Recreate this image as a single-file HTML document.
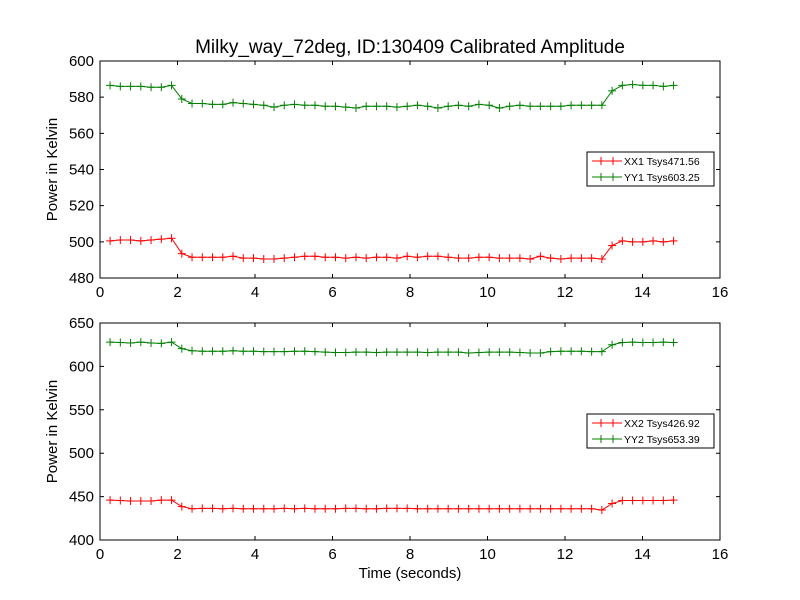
<!DOCTYPE html>
<html><head><meta charset="utf-8"><style>
body{margin:0;background:#fff}
svg{display:block;font-family:"Liberation Sans","DejaVu Sans",sans-serif}
</style></head><body>
<svg id="c" width="800" height="600" viewBox="0 0 800 600">
<rect width="800" height="600" fill="#fff"/>
<text x="410" y="53" font-size="19" text-anchor="middle">Milky_way_72deg, ID:130409 Calibrated Amplitude</text>
<text x="410" y="578" font-size="15" text-anchor="middle">Time (seconds)</text>
</svg>
<script>
const xTicks=[0,2,4,6,8,10,12,14,16];
const topYTicks=[480,500,520,540,560,580,600];
const botYTicks=[400,450,500,550,600,650];
const t0=0.26, dt=0.2644, nPts=56;
const xx1=[500.5,501,501,500.5,501,501.5,502,493.5,491.5,491.5,491.5,491.5,492,491,491,490.5,490.5,491,491.5,492,492,491.5,491.5,491,491.5,491,491.5,491.5,491,492,491.5,492,492,491.5,491,491,491.5,491.5,491,491,491,490.5,492,491,490.5,491,491,491,490.5,498,500.5,500,500,500.5,500,500.5];
const yy1=[586.5,586,586,586,585.5,585.5,586.5,579,576.5,576.5,576,576,577,576.5,576,575.5,574.5,575.5,576,575.5,575.5,575,575,574.5,574,575,575,575,574.5,575,575.5,575,574,575,575.5,575,576,575.5,574,575,575.5,575,575,575,575,575.5,575.5,575.5,575.5,583.5,586.5,587,586.5,586.5,586,586.5];
const xx2=[446,445.5,445,445,445,446,446,438.5,436,436.5,436.5,436,436.5,436,436,436,436,436.5,436,436.5,436,436,436,436.5,436.5,436,436,436.5,436.5,436.5,436,436,436,436,436,436,436,436,436,436,436,436,436,436,436,436,436,436,434.5,442,445.5,445.5,445.5,445.5,445.5,446];
const yy2=[628,627.5,627,628,627,626.5,628,620.5,618,617.5,617.5,617.5,618,617.5,617.5,617,617,617,617.5,617.5,617,616.5,616,616,616.5,616.5,616,616.5,616.5,616.5,616.5,616,616.5,616.5,616.5,615.5,616,616.5,616.5,616.5,616,615.5,615.5,617,617.5,617.5,617.5,617,617,625,627.5,628,627.5,627.5,628,627.5];
const svg=document.getElementById('c');
const NS='http://www.w3.org/2000/svg';
function mk(tag,attrs,parent){const e=document.createElementNS(NS,tag);for(const k in attrs)e.setAttribute(k,attrs[k]);(parent||svg).appendChild(e);return e;}
function panel(top,bot,ymin,ymax,yTicks,series,legend,legY,name){
  const L=100,R=720;
  const xs=v=>L+(v-0)/(16-0)*(R-L);
  const ys=v=>bot-(v-ymin)/(ymax-ymin)*(bot-top);
  const g=mk('g',{});
  
  
  series.forEach(s=>{
    const pts=s.data.map((v,i)=>[xs(t0+i*dt),ys(v)]);
    const pl=mk('polyline',{points:pts.map(p=>p.join(',')).join(' '),fill:'none',stroke:s.color,'stroke-width':1},g);
    
    
    pts.forEach(p=>{
      const m=mk('path',{d:`M${p[0]-4},${p[1]}H${p[0]+4}M${p[0]},${p[1]-4}V${p[1]+4}`,stroke:s.color,'stroke-width':1},g);
      
      
    });
  });
  const fr=mk('rect',{x:L,y:top,width:R-L,height:bot-top,fill:'none',stroke:'#000','stroke-width':1},g);
  
  
  xTicks.forEach(v=>{
    const x=xs(v);
    mk('path',{d:`M${x},${bot}v-4M${x},${top}v4`,stroke:'#000'},g);
    const t=mk('text',{x:x,y:bot+19,'font-size':15,'text-anchor':'middle'},g);
    t.textContent=v;
    
    
  });
  yTicks.forEach(v=>{
    const y=ys(v);
    mk('path',{d:`M${L},${y}h4M${R},${y}h-4`,stroke:'#000'},g);
    const t=mk('text',{x:L-6,y:y+5,'font-size':15,'text-anchor':'end'},g);
    t.textContent=v;
    
    
  });
  const yt=mk('text',{x:57,y:(top+bot)/2,'font-size':15,'text-anchor':'middle',transform:`rotate(-90 57 ${(top+bot)/2})`},g);
  yt.textContent='Power in Kelvin';
  
  
  const lg=mk('g',{},g);
  
  
  mk('rect',{x:587,y:legY,width:127,height:34,fill:'#fff',stroke:'#000'},lg);
  legend.forEach((s,i)=>{
    const y=legY+9+i*16;
    const e=mk('g',{},lg);
    
    
    mk('path',{d:`M592,${y}h30M601,${y-4}v8M613,${y-4}v8`,stroke:s.color},e);
    const t=mk('text',{x:624,y:y+4,'font-size':10.5},e);
    t.textContent=s.label;
  });
}
panel(61,278,480,600,topYTicks,[{data:xx1,color:'#ff0000',name:'xx1'},{data:yy1,color:'#008000',name:'yy1'}],
  [{label:'XX1 Tsys471.56',color:'#ff0000'},{label:'YY1 Tsys603.25',color:'#008000'}],152,'top-panel');
panel(323,540,400,650,botYTicks,[{data:xx2,color:'#ff0000',name:'xx2'},{data:yy2,color:'#008000',name:'yy2'}],
  [{label:'XX2 Tsys426.92',color:'#ff0000'},{label:'YY2 Tsys653.39',color:'#008000'}],414,'bottom-panel');
</script>
</body></html>
